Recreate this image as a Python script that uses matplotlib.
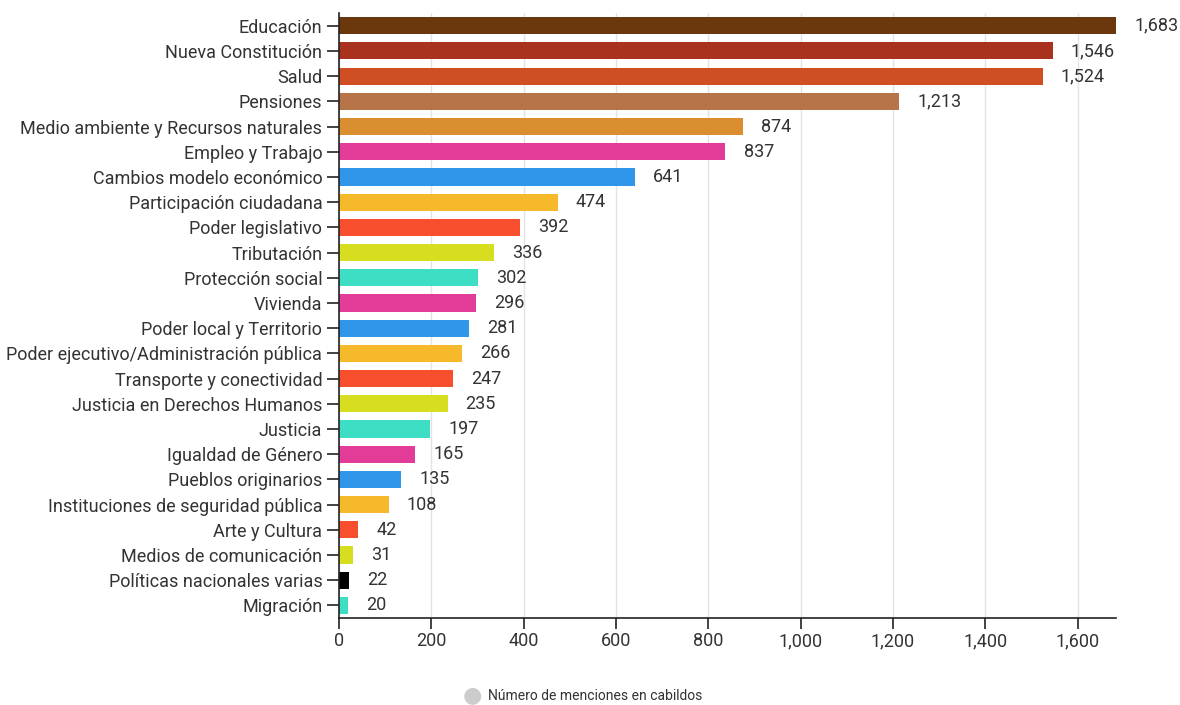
import matplotlib.pyplot as plt
from matplotlib.ticker import FuncFormatter

# categorías y menciones
temas = [
    "Educación", "Nueva Constitución", "Salud", "Pensiones",
    "Medio ambiente y Recursos naturales", "Empleo y Trabajo",
    "Cambios modelo económico", "Participación ciudadana",
    "Poder legislativo", "Tributación", "Protección social", "Vivienda",
    "Poder local y Territorio", "Poder ejecutivo/Administración pública",
    "Transporte y conectividad", "Justicia en Derechos Humanos", "Justicia",
    "Igualdad de Género", "Pueblos originarios",
    "Instituciones de seguridad pública", "Arte y Cultura",
    "Medios de comunicación", "Políticas nacionales varias", "Migración",
]
menciones = [1683, 1546, 1524, 1213, 874, 837, 641, 474, 392, 336, 302, 296,
             281, 266, 247, 235, 197, 165, 135, 108, 42, 31, 22, 20]
colores = [
    "#6b370d", "#a8321e", "#cf4e24", "#b87449", "#da8e30", "#e23c98",
    "#3096ea", "#f6b92b", "#f74f2d", "#d6de1f", "#3ddec3", "#e23c98",
    "#3096ea", "#f6b92b", "#f74f2d", "#d6de1f", "#3ddec3", "#e23c98",
    "#3096ea", "#f6b92b", "#f74f2d", "#d6de1f", "#000000", "#3ddec3",
]
serie = "Número de menciones en cabildos"

plt.rcParams["font.family"] = ["Roboto", "DejaVu Sans"]
texto = "#333333"

fig = plt.figure(figsize=(11.8, 7.05), dpi=100)
ax = fig.add_axes([0.2873, 0.1234, 0.6585, 0.858])

pos = list(range(len(temas)))
ax.barh(pos, menciones, height=0.68, color=colores, zorder=2)
for y, v in zip(pos, menciones):
    ax.annotate(f"{v:,}", (v, y), xytext=(13, 0), textcoords="offset points",
                va="center", ha="left", fontsize=13, color=texto)

ax.set_yticks(pos)
ax.set_yticklabels(temas, fontsize=13, color=texto)
ax.set_ylim(len(temas) - 0.5, -0.5)
ax.set_xlim(0, 1683)
ax.set_xticks(range(0, 1601, 200))
ax.xaxis.set_major_formatter(FuncFormatter(lambda x, p: f"{int(x):,}"))
ax.tick_params(axis="x", labelsize=13, colors="#222222", length=8, width=1.2,
               pad=2, labelcolor=texto)
ax.tick_params(axis="y", length=9, width=1.2, pad=3, colors="#222222",
               labelcolor=texto)
ax.grid(axis="x", color="#e3e3e3", linewidth=1, zorder=0)
for s in ["top", "right"]:
    ax.spines[s].set_visible(False)
for s in ["left", "bottom"]:
    ax.spines[s].set_color("#222222")
    ax.spines[s].set_linewidth(1.2)

# leyenda
fig.text(0.4, 0.0128, "\u25cf", color="#cccccc", fontsize=16, va="center",
         ha="center")
fig.text(0.4135, 0.0128, serie, fontsize=10, color=texto, va="center",
         ha="left")

fig.savefig("out.png", dpi=100)
